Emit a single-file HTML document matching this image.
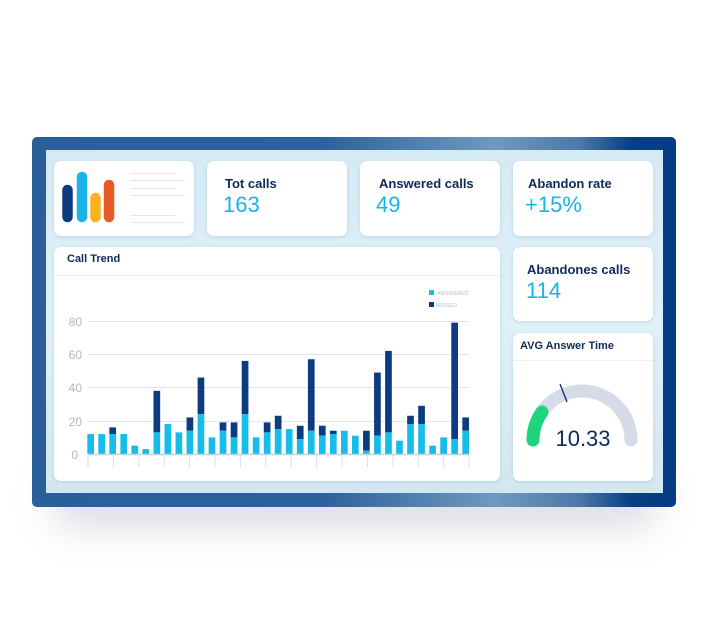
<!DOCTYPE html>
<html><head><meta charset="utf-8"><style>
html,body{margin:0;padding:0;background:#fff;}
body{width:710px;height:643px;overflow:hidden;position:relative;font-family:"Liberation Sans",sans-serif;}
.shadow{position:absolute;left:50px;top:470px;width:610px;height:60px;border-radius:30px;background:rgba(120,130,150,0.25);filter:blur(18px);}
.frame{position:absolute;left:32px;top:137px;width:644px;height:370px;border-radius:5px;
background:linear-gradient(90deg,#2b5f9a 0%,#2d619b 45%,#6f99c0 72%,#4d78a8 85%,#073f85 93%,#063c82 100%);}
.inner{position:absolute;left:46px;top:150px;width:617px;height:343px;background:linear-gradient(180deg,#d6eaf3,#dff0f8 50%,#d3e7f1);}
.card{position:absolute;background:#fff;border-radius:7px;box-shadow:0 1px 3px rgba(90,140,180,0.25);}
.t{position:absolute;font-weight:bold;color:#0f2a5a;font-size:13px;}
.v{position:absolute;color:#17b4e6;font-size:22px;}
</style></head><body>
<div class="shadow"></div>
<div class="frame"></div>
<div class="inner"></div>
<div class="card" style="left:54px;top:161px;width:140px;height:75px"></div>
<div class="card" style="left:207px;top:161px;width:140px;height:75px"></div>
<div class="card" style="left:360px;top:161px;width:140px;height:75px"></div>
<div class="card" style="left:513px;top:161px;width:140px;height:75px"></div>
<div class="card" style="left:54px;top:247px;width:446px;height:234px"></div>
<div class="card" style="left:513px;top:247px;width:140px;height:74px"></div>
<div class="card" style="left:513px;top:333px;width:140px;height:148px"></div>
<div class="t" style="left:225px;top:176px">Tot calls</div>
<div class="v" style="left:223px;top:192px">163</div>
<div class="t" style="left:379px;top:176px">Answered calls</div>
<div class="v" style="left:376px;top:192px">49</div>
<div class="t" style="left:528px;top:176px">Abandon rate</div>
<div class="v" style="left:525px;top:192px">+15%</div>
<div class="t" style="left:527px;top:262px">Abandones calls</div>
<div class="v" style="left:526px;top:278px">114</div>
<div class="t" style="left:67px;top:253px;font-size:11px">Call Trend</div>
<div class="t" style="left:520px;top:340px;font-size:11px">AVG Answer Time</div>
<svg width="710" height="643" style="position:absolute;left:0;top:0">
<g stroke-linecap="round" stroke-width="10.5">
<line x1="67.5" y1="190" x2="67.5" y2="217" stroke="#0d3b7f"/>
<line x1="82" y1="177" x2="82" y2="217" stroke="#1ab4e8"/>
<line x1="95.5" y1="198" x2="95.5" y2="217" stroke="#fbb11c"/>
<line x1="109" y1="185" x2="109" y2="217" stroke="#e85a24"/>
</g>
<g stroke="#e3e8f0" stroke-width="1">
<line x1="130" y1="173.5" x2="175" y2="173.5"/><line x1="130" y1="180.5" x2="185" y2="180.5"/>
<line x1="130" y1="188.5" x2="175" y2="188.5"/><line x1="130" y1="195.5" x2="185" y2="195.5"/>
<line x1="130" y1="215.5" x2="175" y2="215.5"/><line x1="130" y1="222.5" x2="185" y2="222.5"/>
</g>
<line x1="54" y1="275.5" x2="500" y2="275.5" stroke="#eef2f6"/>
<line x1="513" y1="360.5" x2="653" y2="360.5" stroke="#eef2f6"/>
<g stroke="#dfe4ee" stroke-width="1">
<line x1="88" y1="321.5" x2="469" y2="321.5"/><line x1="88" y1="354.5" x2="469" y2="354.5"/>
<line x1="88" y1="387.5" x2="469" y2="387.5"/><line x1="88" y1="421.5" x2="469" y2="421.5"/>
</g>
<g font-size="12" fill="#b0b8c8" text-anchor="end">
<text x="82" y="326">80</text><text x="82" y="359">60</text><text x="82" y="392">40</text><text x="82" y="426">20</text><text x="78" y="459">0</text>
</g>
<rect x="429" y="290" width="5" height="5" fill="#17bde9"/><rect x="429" y="302" width="5" height="5" fill="#0d3b7f"/>
<text x="437" y="295" font-size="5.5" fill="#b8c0cc">ANSWERED</text>
<text x="436" y="307" font-size="5.5" fill="#b8c0cc">MISSED</text>
<g id="bars"></g>
<line x1="88" y1="454.5" x2="469" y2="454.5" stroke="#c8cfdc" stroke-width="1.5"/>
<g id="ticks" stroke="#d8dde6" stroke-width="1"></g>
<path d="M533 440 A49 49 0 0 1 631 440" fill="none" stroke="#d5dbe7" stroke-width="13" stroke-linecap="round"/>
<path d="M533 440 A49 49 0 0 1 542 412" fill="none" stroke="#1fd47a" stroke-width="13" stroke-linecap="round"/>
<line x1="560" y1="384" x2="567" y2="402" stroke="#0f2a5a" stroke-width="1.3"/>
<text x="583" y="446" font-size="22" fill="#0f2a5a" text-anchor="middle">10.33</text>
</svg>
<script>
var d=[[12,12],[12,12],[12,16],[12,12],[5,5],[3,3],[13,38],[18,18],[13,13],[14,22],[24,46],[10,10],[14,19],[10,19],[24,56],[10,10],[13,19],[15,23],[15,15],[9,17],[14,57],[11,17],[12,14],[14,14],[11,11],[2,14],[11,49],[13,62],[8,8],[18,23],[18,29],[5,5],[10,10],[9,79],[14,22]];
var s='',k=33.25/20,b=454;
d.forEach(function(v,i){var x=87.3+i*11.03;
s+='<rect x="'+x+'" y="'+(b-v[1]*k)+'" width="6.7" height="'+((v[1]-v[0])*k)+'" fill="#0d3b7f"/>';
s+='<rect x="'+x+'" y="'+(b-v[0]*k)+'" width="6.7" height="'+(v[0]*k)+'" fill="#17bde9"/>';});
document.getElementById('bars').innerHTML=s;
var t='';for(var i=0;i<16;i++){var x=88+i*25.4;t+='<line x1="'+x+'" y1="455" x2="'+x+'" y2="467"/>';}
document.getElementById('ticks').innerHTML=t;
</script>
</body></html>
